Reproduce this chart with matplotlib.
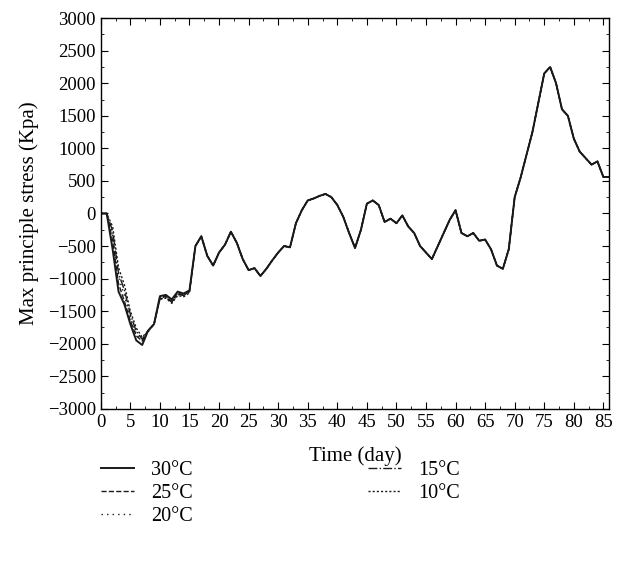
import matplotlib
matplotlib.use("Agg")
import matplotlib.pyplot as plt
from matplotlib.ticker import MultipleLocator

plt.rcParams['font.family'] = ['Liberation Serif', 'DejaVu Serif']
plt.rcParams['mathtext.fontset'] = 'stix'

labels = ["30°C", "25°C", "20°C", "15°C", "10°C"]

# Early part (days 0..15), where the curves separate
head_30 = [0, 0, -550, -1200, -1400, -1700, -1950, -2020, -1800, -1700, -1270, -1250, -1320, -1200, -1230, -1180]
head_25 = [0, 0, -420, -1080, -1350, -1650, -1880, -1960, -1800, -1700, -1290, -1270, -1350, -1220, -1250, -1200]
head_20 = [0, 0, -330, -980, -1260, -1600, -1850, -1950, -1820, -1700, -1300, -1280, -1370, -1240, -1270, -1210]
head_15 = [0, 0, -270, -920, -1180, -1550, -1810, -1930, -1800, -1700, -1310, -1290, -1360, -1240, -1260, -1200]
head_10 = [0, 0, -200, -830, -1100, -1500, -1760, -1900, -1800, -1700, -1320, -1300, -1380, -1260, -1280, -1220]

# Later part (days 16..86), where the curves coincide
tail = [-500, -350, -650, -800, -600, -480, -280, -450, -700, -870,
        -840, -960, -850, -720, -600, -500, -520, -150, 50, 200,
        230, 270, 300, 250, 130, -50, -300, -530, -250, 150,
        200, 130, -130, -80, -150, -30, -200, -300, -500, -600,
        -700, -500, -300, -100, 50, -300, -350, -300, -420, -400,
        -550, -800, -850, -550, 250, 550, 900, 1250, 1700, 2150,
        2250, 2000, 1600, 1500, 1150, 950, 850, 750, 800, 560, 560]

heads = [head_30, head_25, head_20, head_15, head_10]
styles = ['-', '--', (0, (1, 3)), '-.', (0, (1.5, 1.5))]
widths = [1.4, 1.0, 1.0, 1.0, 1.0]

fig = plt.figure(figsize=(6.34, 5.67), dpi=100)
ax = fig.add_axes([0.159, 0.279, 0.802, 0.689])

for lab, h, ls, lw in zip(labels, heads, styles, widths):
    vals = h + tail
    days = list(range(len(vals)))
    ax.plot(days, vals, color='#1a1a1a', linestyle=ls, linewidth=lw, label=lab)

ax.set_xlim(0, 86)
ax.set_ylim(-3000, 3000)
ax.xaxis.set_major_locator(MultipleLocator(5))
ax.xaxis.set_minor_locator(MultipleLocator(2.5))
ax.yaxis.set_major_locator(MultipleLocator(500))
ax.yaxis.set_minor_locator(MultipleLocator(250))
ax.tick_params(which='both', direction='in', top=True, right=True, labelsize=13.5)
ax.tick_params(which='major', length=5)
ax.tick_params(which='minor', length=2.5)
ax.set_yticks(range(-3000, 3001, 500))
ax.set_yticklabels([str(v).replace('-', '\u2212') for v in range(-3000, 3001, 500)])
for s in ax.spines.values():
    s.set_linewidth(1.0)

ax.set_xlabel("Time (day)", fontsize=15, labelpad=11)
ax.set_ylabel("Max principle stress (Kpa)", fontsize=15, labelpad=6)

fig.legend(loc='upper left', bbox_to_anchor=(0.130, 0.219), ncol=2, frameon=False,
           fontsize=14.5, handlelength=1.65, handletextpad=0.85, columnspacing=8.7,
           labelspacing=0.2)

fig.savefig("out.png", dpi=100)
